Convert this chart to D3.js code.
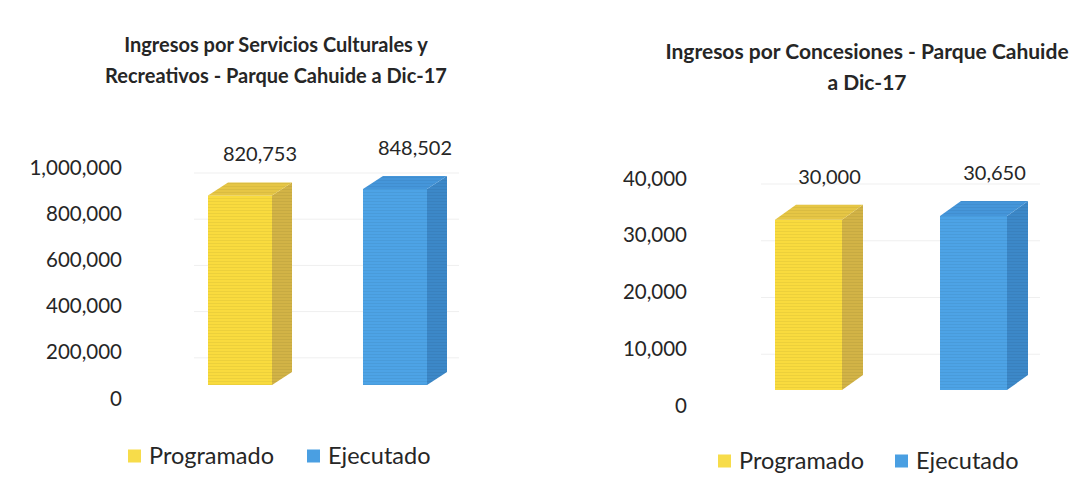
<!DOCTYPE html>
<html>
<head>
<meta charset="utf-8">
<script src="https://cdn.jsdelivr.net/npm/d3@7"></script>
<style>
  body { margin: 0; background: #fff; }
  svg text { font-family: Lato, "Open Sans", sans-serif; fill: #262626; }
</style>
</head>
<body>
<svg width="1078" height="486"></svg>
<script>
// data
var categories = ["Programado", "Ejecutado"];
var culturalesValues = [820753, 848502];
var concesionesValues = [30000, 30650];
var culturalesTicks = [0, 200000, 400000, 600000, 800000, 1000000];
var concesionesTicks = [0, 10000, 20000, 30000, 40000];
var culturalesTitle = ["Ingresos por Servicios Culturales y", "Recreativos - Parque Cahuide a Dic-17"];
var concesionesTitle = ["Ingresos por Concesiones - Parque Cahuide", "a Dic-17"];

var colors = {
  Programado: {front: "#F9DB3E", side: "#D2B346", top: "#E6C645", legend: "#F7DC4A"},
  Ejecutado: {front: "#4DA3E6", side: "#3C88C8", top: "#4596DA", legend: "#4A9FE2"}
};

var svg = d3.select("svg");

// faint horizontal lines like the scanned texture
var pat = svg.append("defs").append("pattern")
  .attr("id", "scan")
  .attr("width", 6).attr("height", 3)
  .attr("patternUnits", "userSpaceOnUse");
pat.append("rect").attr("x", 0).attr("y", 0).attr("width", 6).attr("height", 1)
  .attr("fill", "#000").attr("opacity", 0.05);

var drawChart = function(cfg)
{
  var g = svg.append("g");

  var yScale = d3.scaleLinear()
    .domain([0, cfg.ticks[cfg.ticks.length - 1]])
    .range(cfg.yRange);

  var xScale = d3.scaleBand()
    .domain(categories)
    .range(cfg.xRange)
    .paddingInner(cfg.pad)
    .paddingOuter(0);

  // title
  g.append("text")
    .attr("x", cfg.titleX)
    .attr("y", cfg.titleY)
    .attr("text-anchor", "middle")
    .style("font-weight", "bold")
    .style("font-size", cfg.titleSize + "px")
    .selectAll("tspan")
    .data(cfg.title)
    .enter()
    .append("tspan")
    .attr("x", cfg.titleX)
    .attr("dy", function(d, i) { return i == 0 ? 0 : 31; })
    .text(function(d) { return d; });

  // faint back wall gridlines
  g.append("g")
    .selectAll("line")
    .data(cfg.ticks.slice(1))
    .enter()
    .append("line")
    .attr("x1", cfg.xRange[0] - 14)
    .attr("x2", cfg.xRange[1] + cfg.dx + 12)
    .attr("y1", function(d) { return yScale(d) + 6; })
    .attr("y2", function(d) { return yScale(d) + 6; })
    .attr("stroke", "#efefef")
    .attr("stroke-width", 1);

  // axis
  var yAxis = d3.axisLeft(yScale)
    .tickValues(cfg.ticks)
    .tickSize(0)
    .tickPadding(0)
    .tickFormat(d3.format(","));

  var ax = g.append("g")
    .attr("transform", "translate(" + cfg.axisX + ",0)")
    .call(yAxis);
  ax.select(".domain").remove();
  ax.selectAll("text")
    .style("font-size", "20.5px")
    .attr("fill", "#262626")
    .attr("dy", "0.35em");

  // 3d bars
  var bars = g.selectAll(".bar")
    .data(cfg.values)
    .enter()
    .append("g")
    .attr("class", "bar");

  var geo = function(d, i)
  {
    var x0 = xScale(categories[i]);
    var x1 = x0 + xScale.bandwidth();
    var yb = yScale(0) - cfg.lift;
    var yt = yScale(d) - cfg.lift;
    return {x0: x0, x1: x1, yb: yb, yt: yt};
  };

  var faces = [
    {key: "side", pts: function(b) {
      return [[b.x1, b.yb], [b.x1, b.yt], [b.x1 + cfg.dx, b.yt + cfg.dy], [b.x1 + cfg.dx, b.yb + cfg.dy]]; }},
    {key: "top", pts: function(b) {
      return [[b.x0, b.yt], [b.x1, b.yt], [b.x1 + cfg.dx, b.yt + cfg.dy], [b.x0 + cfg.dx, b.yt + cfg.dy]]; }},
    {key: "front", pts: function(b) {
      return [[b.x0, b.yb], [b.x1, b.yb], [b.x1, b.yt], [b.x0, b.yt]]; }}
  ];

  faces.forEach(function(f)
  {
    bars.append("polygon")
      .attr("points", function(d, i) { return f.pts(geo(d, i)).join(" "); })
      .attr("fill", function(d, i) { return colors[categories[i]][f.key]; });
    bars.append("polygon")
      .attr("points", function(d, i) { return f.pts(geo(d, i)).join(" "); })
      .attr("fill", "url(#scan)");
  });

  // value labels
  bars.append("text")
    .attr("x", function(d, i) { return xScale(categories[i]) + xScale.bandwidth() / 2 + cfg.dx; })
    .attr("y", function(d, i) { return geo(d, i).yt + cfg.dy - 28; })
    .attr("dy", "0.35em")
    .attr("text-anchor", "middle")
    .style("font-size", "20px")
    .text(function(d) { return d3.format(",")(d); });

  // legend
  var leg = g.selectAll(".leg")
    .data(categories)
    .enter()
    .append("g")
    .attr("class", "leg")
    .attr("transform", function(d, i) { return "translate(" + cfg.legendX[i] + "," + cfg.legendY + ")"; });

  leg.append("rect")
    .attr("x", 0)
    .attr("y", -6.5)
    .attr("width", 13)
    .attr("height", 13)
    .attr("fill", function(d) { return colors[d].legend; });

  leg.append("text")
    .attr("x", 21)
    .attr("y", 0)
    .attr("dy", "0.35em")
    .style("font-size", "23.5px")
    .text(function(d) { return d; });
};

drawChart({
  values: culturalesValues, ticks: culturalesTicks, title: culturalesTitle,
  titleX: 276, titleY: 52, titleSize: 20,
  yRange: [398, 167], axisX: 122,
  xRange: [208, 427], pad: 0.587,
  lift: 13, dx: 20, dy: -13,
  legendX: [128, 307], legendY: 456
});

drawChart({
  values: concesionesValues, ticks: concesionesTicks, title: concesionesTitle,
  titleX: 867, titleY: 59, titleSize: 21,
  yRange: [405, 178], axisX: 687,
  xRange: [775, 1007], pad: 0.594,
  lift: 15, dx: 21, dy: -15,
  legendX: [718, 895], legendY: 461
});
</script>
</body>
</html>
